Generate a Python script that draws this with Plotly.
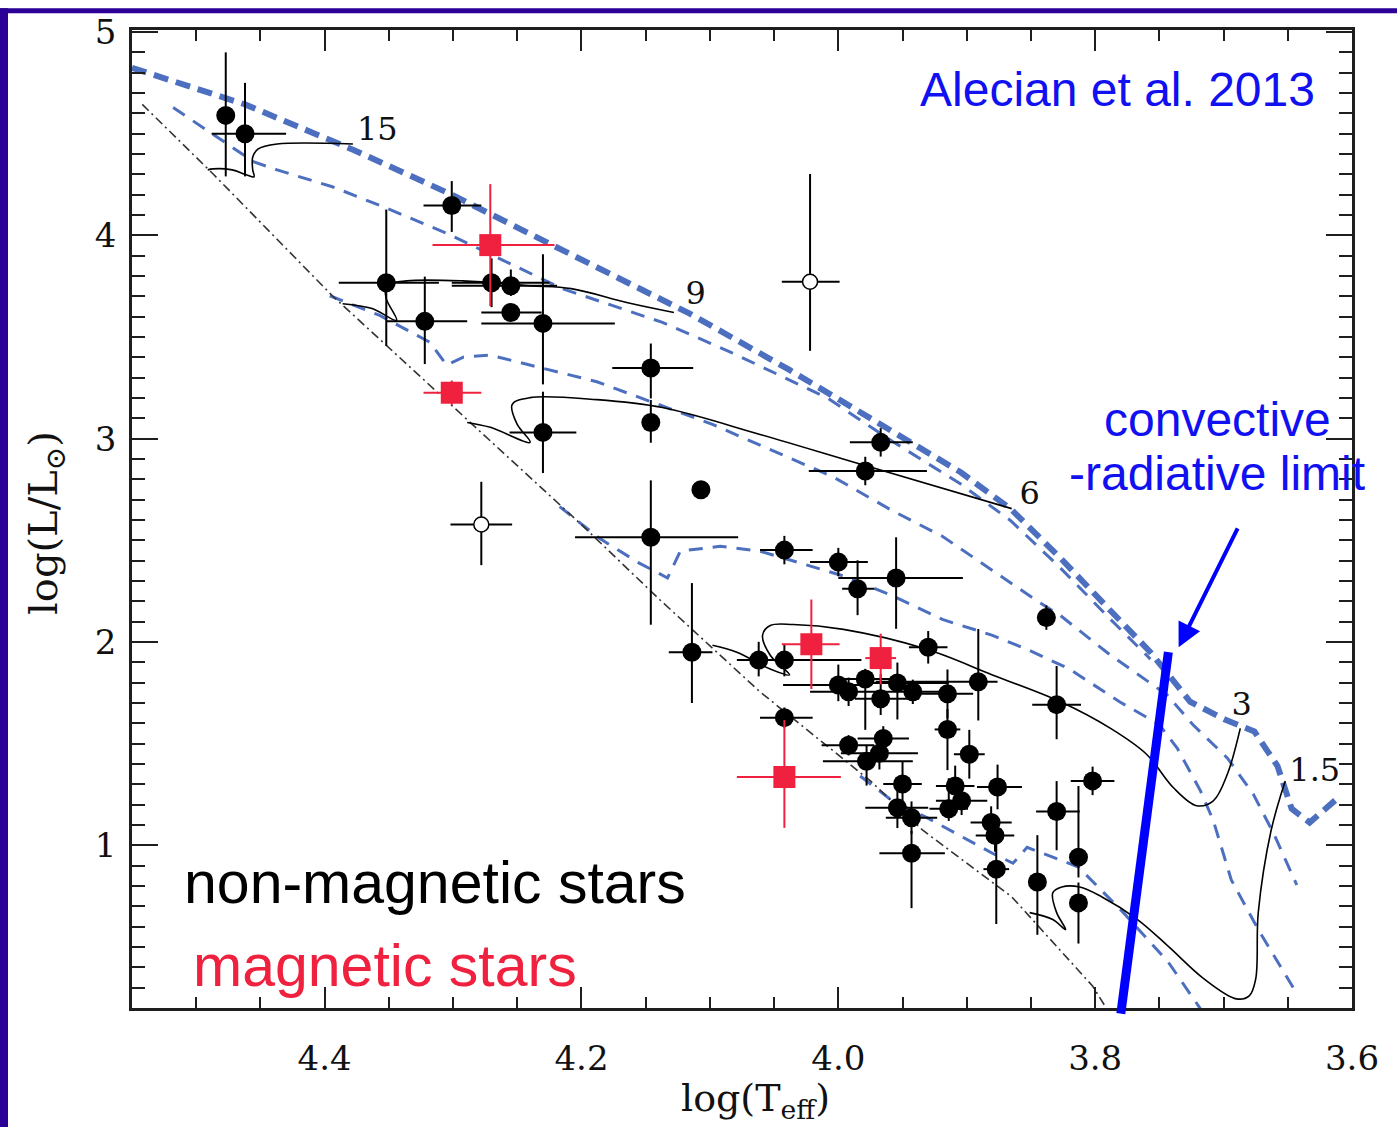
import plotly.graph_objects as go

# ---------------- axes ----------------
X_RANGE = [4.55, 3.6]
Y_RANGE = [0.2, 5.01]
X_TICKS = [4.4, 4.2, 4.0, 3.8, 3.6]
X_TICKTEXT = ["4.4", "4.2", "4.0", "3.8", "3.6"]
Y_TICKS = [1, 2, 3, 4, 5]
Y_TICKTEXT = ["1", "2", "3", "4", "5"]

# ---------------- non-magnetic stars (filled) ----------------
nm_logT = [4.477, 4.462, 4.301, 4.352, 4.322, 4.270, 4.255, 4.255, 4.230, 4.230,
           4.146, 4.146, 4.107, 4.146, 3.967, 3.979, 4.042, 4.000, 3.985, 3.955,
           3.838, 4.114, 4.062, 4.042, 4.042, 4.000, 3.992, 3.979, 3.967, 3.954,
           3.942, 3.930, 3.915, 3.891, 3.915, 3.898, 3.830, 3.992, 3.978, 3.965,
           3.968, 3.950, 3.954, 3.943, 3.943, 3.914, 3.909, 3.904, 3.876, 3.881,
           3.878, 3.877, 3.830, 3.802, 3.813, 3.813, 3.845]
nm_logL = [4.590, 4.500, 4.147, 3.767, 3.577, 3.767, 3.752, 3.621, 3.567, 3.031,
           3.348, 3.080, 2.749, 2.515, 2.982, 2.841, 2.452, 2.393, 2.262, 2.315,
           2.120, 1.950, 1.911, 1.911, 1.628, 1.789, 1.755, 1.818, 1.721, 1.799,
           1.755, 1.974, 1.745, 1.804, 1.570, 1.448, 1.692, 1.492, 1.414, 1.526,
           1.453, 1.302, 1.185, 1.136, 0.961, 1.180, 1.292, 1.219, 1.287, 1.112,
           1.049, 0.883, 1.166, 1.317, 0.942, 0.717, 0.820]
nm_eT_hi = [0.0, 0.026, 0.022, 0.037, 0.030, 0.031, 0.046, 0.023, 0.048, 0.026,
            0.030, 0.0, 0.0, 0.059, 0.024, 0.044, 0.019, 0.022, 0.012, 0.045,
            0.0, 0.018, 0.017, 0.020, 0.019, 0.043, 0.030, 0.020, 0.020, 0.030,
            0.020, 0.015, 0.020, 0.080, 0.010, 0.012, 0.019, 0.021, 0.034, 0.020,
            0.030, 0.015, 0.025, 0.020, 0.025, 0.015, 0.015, 0.020, 0.016, 0.016,
            0.015, 0.010, 0.016, 0.017, 0.0, 0.0, 0.0]
nm_eT_lo = [0.0, 0.032, 0.023, 0.041, 0.033, 0.045, 0.036, 0.024, 0.056, 0.026,
            0.033, 0.0, 0.0, 0.068, 0.025, 0.048, 0.022, 0.023, 0.013, 0.052,
            0.0, 0.016, 0.030, 0.060, 0.022, 0.020, 0.030, 0.020, 0.030, 0.040,
            0.025, 0.015, 0.020, 0.015, 0.010, 0.012, 0.019, 0.020, 0.036, 0.020,
            0.030, 0.015, 0.024, 0.020, 0.026, 0.015, 0.015, 0.020, 0.019, 0.016,
            0.015, 0.010, 0.018, 0.017, 0.0, 0.0, 0.0]
nm_eL_hi = [0.31, 0.25, 0.12, 0.36, 0.22, 0.12, 0.08, 0.04, 0.34, 0.20,
            0.12, 0.11, 0.0, 0.28, 0.07, 0.07, 0.07, 0.07, 0.14, 0.20,
            0.06, 0.34, 0.09, 0.08, 0.05, 0.10, 0.07, 0.05, 0.12, 0.10,
            0.06, 0.08, 0.12, 0.26, 0.10, 0.12, 0.19, 0.05, 0.08, 0.06,
            0.08, 0.11, 0.10, 0.08, 0.11, 0.15, 0.10, 0.07, 0.11, 0.08,
            0.08, 0.21, 0.15, 0.07, 0.35, 0.10, 0.23]
nm_eL_lo = [0.30, 0.21, 0.13, 0.31, 0.21, 0.12, 0.05, 0.04, 0.30, 0.20,
            0.15, 0.10, 0.0, 0.43, 0.07, 0.07, 0.07, 0.07, 0.13, 0.25,
            0.06, 0.25, 0.08, 0.08, 0.05, 0.08, 0.07, 0.25, 0.08, 0.18,
            0.06, 0.08, 0.12, 0.19, 0.20, 0.12, 0.17, 0.05, 0.12, 0.06,
            0.08, 0.14, 0.10, 0.08, 0.27, 0.06, 0.10, 0.07, 0.11, 0.08,
            0.08, 0.27, 0.19, 0.07, 0.10, 0.20, 0.26]

# ---------------- open circles ----------------
oc_logT = [4.278, 4.022]
oc_logL = [2.578, 3.772]
oc_eT_hi = [0.024, 0.022]
oc_eT_lo = [0.024, 0.023]
oc_eL_hi = [0.21, 0.53]
oc_eL_lo = [0.20, 0.34]

# ---------------- magnetic stars ----------------
mg_logT = [4.271, 4.301, 4.021, 3.967, 4.042]
mg_logL = [3.952, 3.226, 1.989, 1.921, 1.336]
mg_eT_hi = [0.045, 0.022, 0.023, 0.012, 0.037]
mg_eT_lo = [0.050, 0.023, 0.022, 0.012, 0.044]
mg_eL_hi = [0.30, 0.06, 0.22, 0.12, 0.28]
mg_eL_lo = [0.30, 0.06, 0.22, 0.13, 0.25]

# ---------------- isochrones (blue dashed) ----------------
isoA_T = [4.550, 4.462, 4.377, 4.301, 4.221, 4.116, 4.038, 3.968, 3.905, 3.866,
          3.827, 3.788, 3.757, 3.726, 3.699, 3.676, 3.658, 3.647, 3.633, 3.609]
isoA_L = [4.824, 4.644, 4.419, 4.200, 3.947, 3.616, 3.338, 3.070, 2.836, 2.656,
          2.413, 2.154, 1.950, 1.706, 1.619, 1.560, 1.390, 1.180, 1.112, 1.244]
isoB_T = [4.518, 4.472, 4.455, 4.437, 4.394, 4.355, 4.305, 4.215, 4.137, 4.084,
          4.009, 3.958, 3.905, 3.866, 3.827, 3.788, 3.757]
isoB_L = [4.629, 4.434, 4.361, 4.322, 4.239, 4.142, 4.010, 3.738, 3.572, 3.426,
          3.202, 2.987, 2.778, 2.598, 2.364, 2.111, 1.916]
isoC_T = [4.396, 4.357, 4.318, 4.305, 4.292, 4.271, 4.188, 4.098, 4.004, 3.958,
          3.919, 3.880, 3.843, 3.827, 3.788, 3.744, 3.724, 3.697, 3.677, 3.661, 3.643]
isoC_L = [3.703, 3.606, 3.474, 3.362, 3.401, 3.411, 3.280, 3.070, 2.812, 2.646,
          2.520, 2.354, 2.193, 2.130, 1.935, 1.740, 1.594, 1.429, 1.253, 1.058, 0.805]
isoD_T = [4.217, 4.186, 4.155, 4.133, 4.123, 4.092, 4.061, 3.996, 3.958, 3.919,
          3.880, 3.853, 3.820, 3.781, 3.750, 3.736, 3.718, 3.708, 3.694, 3.673, 3.642]
isoD_L = [2.666, 2.510, 2.388, 2.315, 2.447, 2.471, 2.447, 2.325, 2.228, 2.111,
          2.033, 1.964, 1.867, 1.706, 1.594, 1.477, 1.268, 1.122, 0.830, 0.586, 0.260]
isoE_T = [3.983, 3.958, 3.931, 3.913, 3.880, 3.864, 3.853, 3.833, 3.813, 3.778,
          3.743, 3.718]
isoE_L = [1.341, 1.219, 1.136, 1.073, 0.961, 0.912, 0.990, 0.942, 0.893, 0.669,
          0.425, 0.196]

# ---------------- ZAMS (dash-dot) ----------------
zams_T = [4.542, 4.487, 4.394, 4.287, 4.201, 4.139, 4.061, 3.975, 3.934, 3.865,
          3.802, 3.792]
zams_L = [4.644, 4.303, 3.703, 3.080, 2.583, 2.208, 1.755, 1.317, 1.073, 0.747,
          0.308, 0.206]

# ---------------- evolutionary tracks ----------------
trk15_T = [4.491, 4.487, 4.472, 4.461, 4.455, 4.456, 4.456, 4.452, 4.437, 4.378]
trk15_L = [4.322, 4.327, 4.322, 4.298, 4.288, 4.322, 4.385, 4.424, 4.449, 4.449]
trk9_T = [4.386, 4.363, 4.344, 4.352, 4.352, 4.336, 4.292, 4.240, 4.208, 4.164, 4.128]
trk9_L = [3.664, 3.640, 3.582, 3.689, 3.752, 3.776, 3.776, 3.752, 3.738, 3.669, 3.621]
trk6_T = [4.289, 4.271, 4.240, 4.250, 4.254, 4.240, 4.188, 4.137, 4.061, 3.983, 3.865]
trk6_L = [3.080, 3.056, 2.982, 3.070, 3.168, 3.202, 3.192, 3.153, 3.021, 2.875, 2.656]
trk3_T = [4.098, 4.079, 4.053, 4.038, 4.053, 4.059, 4.053, 4.035, 3.996, 3.931,
          3.880, 3.827, 3.788, 3.760, 3.739, 3.721, 3.708, 3.697, 3.687]
trk3_L = [1.984, 1.950, 1.867, 1.838, 1.935, 2.033, 2.081, 2.086, 2.062, 1.964,
          1.838, 1.706, 1.575, 1.448, 1.283, 1.195, 1.219, 1.351, 1.575]
trk15b_T = [3.851, 3.833, 3.823, 3.830, 3.833, 3.826, 3.812, 3.795, 3.767, 3.743,
            3.715, 3.690, 3.680, 3.675, 3.673, 3.663, 3.652]
trk15b_L = [0.669, 0.635, 0.586, 0.669, 0.766, 0.795, 0.795, 0.747, 0.635, 0.503,
            0.342, 0.245, 0.260, 0.342, 0.669, 1.073, 1.317]

track_labels = ["15", "9", "6", "3", "1.5"]
track_label_T = [4.359, 4.111, 3.851, 3.686, 3.629]
track_label_L = [4.507, 3.703, 2.720, 1.682, 1.356]

# convective-radiative limit (annotation line) and arrow tip
limit_T = [3.743, 3.780]
limit_L = [1.950, 0.172]
arrow_tip = (3.735, 1.974)

# ---------------- styling ----------------
W, H = 1397, 1128
ML, MR, MT, MB = 132, 45, 22, 120
PW, PH = W - ML - MR, H - MT - MB
AX = "#1e1e1e"
BLUE_ISO = "#4d6fbf"
RED = "#f0203f"
TXT_BLUE = "#1010f0"
SERIF = "DejaVu Serif"
SANS = "Liberation Sans"


def d2px(t, l):
    return ((t - X_RANGE[0]) / (X_RANGE[1] - X_RANGE[0]),
            (l - Y_RANGE[0]) / (Y_RANGE[1] - Y_RANGE[0]))


def px2paper(px, py):
    return (px - ML) / PW, (H - MB - py) / PH


fig = go.Figure()


def add_line(xs, ys, color, width, dash, shape="linear"):
    fig.add_trace(go.Scatter(x=xs, y=ys, mode="lines",
                             line=dict(color=color, width=width, dash=dash, shape=shape),
                             hoverinfo="skip", showlegend=False))


for xs, ys in [(isoB_T, isoB_L), (isoC_T, isoC_L), (isoD_T, isoD_L), (isoE_T, isoE_L)]:
    add_line(xs, ys, BLUE_ISO, 3, "14px,10px")
add_line(isoA_T, isoA_L, BLUE_ISO, 6, "15px,8px")
add_line(zams_T, zams_L, "#333333", 1.6, "9px,4px,2px,4px")
for xs, ys in [(trk15_T, trk15_L), (trk9_T, trk9_L), (trk6_T, trk6_L),
               (trk3_T, trk3_L), (trk15b_T, trk15b_L)]:
    add_line(xs, ys, "black", 1.6, "solid", "spline")

fig.add_trace(go.Scatter(
    x=nm_logT, y=nm_logL, mode="markers",
    marker=dict(color="black", size=19, line=dict(width=0)),
    error_x=dict(type="data", array=nm_eT_hi, arrayminus=nm_eT_lo, color="black", thickness=2, width=0),
    error_y=dict(type="data", array=nm_eL_hi, arrayminus=nm_eL_lo, color="black", thickness=2, width=0),
    showlegend=False, hoverinfo="skip"))
fig.add_trace(go.Scatter(
    x=oc_logT, y=oc_logL, mode="markers",
    marker=dict(color="white", size=15, line=dict(width=1.5, color="black")),
    error_x=dict(type="data", array=oc_eT_hi, arrayminus=oc_eT_lo, color="black", thickness=2, width=0),
    error_y=dict(type="data", array=oc_eL_hi, arrayminus=oc_eL_lo, color="black", thickness=2, width=0),
    showlegend=False, hoverinfo="skip"))
fig.add_trace(go.Scatter(
    x=mg_logT, y=mg_logL, mode="markers",
    marker=dict(color=RED, size=22, symbol="square", line=dict(width=0)),
    error_x=dict(type="data", array=mg_eT_hi, arrayminus=mg_eT_lo, color=RED, thickness=2, width=0),
    error_y=dict(type="data", array=mg_eL_hi, arrayminus=mg_eL_lo, color=RED, thickness=2, width=0),
    showlegend=False, hoverinfo="skip"))

# track mass labels
fig.add_trace(go.Scatter(
    x=track_label_T, y=track_label_L, mode="text", text=track_labels,
    textfont=dict(family=SERIF, size=32, color="#111111"),
    showlegend=False, hoverinfo="skip", cliponaxis=False))

annotations = []
annotations.append(dict(x=3.627, y=4.717, xref="x", yref="y", text="Alecian et al. 2013",
                        showarrow=False, xanchor="right", yanchor="middle",
                        font=dict(family=SANS, size=48, color=TXT_BLUE)))
annotations.append(dict(x=3.705, y=3.095, xref="x", yref="y", text="convective",
                        showarrow=False, xanchor="center", yanchor="middle",
                        font=dict(family=SANS, size=48, color=TXT_BLUE)))
annotations.append(dict(x=3.705, y=2.827, xref="x", yref="y", text="-radiative limit",
                        showarrow=False, xanchor="center", yanchor="middle",
                        font=dict(family=SANS, size=48, color=TXT_BLUE)))
annotations.append(dict(x=4.511, y=0.815, xref="x", yref="y", text="non-magnetic stars",
                        showarrow=False, xanchor="left", yanchor="middle",
                        font=dict(family=SANS, size=59, color="black")))
annotations.append(dict(x=4.504, y=0.406, xref="x", yref="y", text="magnetic stars",
                        showarrow=False, xanchor="left", yanchor="middle",
                        font=dict(family=SANS, size=59, color=RED)))
# arrow
annotations.append(dict(x=arrow_tip[0], y=arrow_tip[1], xref="x", yref="y", text=" ",
                        showarrow=True, ax=62, ay=-125, arrowhead=2, arrowsize=1.2,
                        arrowwidth=4, arrowcolor="#0000ff", standoff=0))
# axis titles
tx, ty = px2paper(755, 1101)
annotations.append(dict(x=tx, y=ty, xref="paper", yref="paper", text="log(T<sub>eff</sub>)",
                        showarrow=False, xanchor="center", yanchor="middle",
                        font=dict(family=SERIF, size=38, color="#111111")))
tx, ty = px2paper(46, 519)
annotations.append(dict(x=tx, y=ty, xref="paper", yref="paper", text="log(L/L<sub>⊙</sub>)",
                        showarrow=False, xanchor="center", yanchor="middle", textangle=-90,
                        font=dict(family=SERIF, size=40, color="#111111")))

shapes = []
x0, y0 = d2px(limit_T[0], limit_L[0])
x1, y1 = d2px(limit_T[1], limit_L[1])
shapes.append(dict(type="line", xref="paper", yref="paper", x0=x0, y0=y0, x1=x1, y1=y1,
                   line=dict(color="#0000ff", width=9)))
# slide frame (left and top bars)
bx0, by0 = px2paper(0, H)
bx1, by1 = px2paper(8, 0)
shapes.append(dict(type="rect", xref="paper", yref="paper", x0=bx0, y0=by0, x1=bx1, y1=by1,
                   fillcolor="#2a0096", line=dict(width=0), layer="above"))
tx0, ty0 = px2paper(0, 5)
tx1, ty1 = px2paper(W, 0)
shapes.append(dict(type="rect", xref="paper", yref="paper", x0=tx0, y0=ty0, x1=tx1, y1=ty1,
                   fillcolor="#2a0096", line=dict(width=0), layer="above"))

axis_common = dict(showline=True, linecolor=AX, linewidth=2.5, mirror="allticks",
                   ticks="inside", tickcolor=AX, tickwidth=2, showgrid=False, zeroline=False,
                   tickfont=dict(family=SERIF, size=34, color="#111111"))

fig.update_layout(
    width=W, height=H,
    margin=dict(l=ML, r=MR, t=MT, b=MB),
    paper_bgcolor="white", plot_bgcolor="white",
    xaxis=dict(range=X_RANGE, tickmode="array", tickvals=X_TICKS, ticktext=X_TICKTEXT,
               ticklen=21, ticklabelstandoff=18,
               minor=dict(ticks="inside", ticklen=11, tickwidth=2, tickcolor=AX,
                          dtick=0.05, tick0=3.6, showgrid=False),
               **axis_common),
    yaxis=dict(range=Y_RANGE, tickmode="array", tickvals=Y_TICKS, ticktext=Y_TICKTEXT,
               ticklen=26, ticklabelstandoff=6,
               minor=dict(ticks="inside", ticklen=13, tickwidth=2, tickcolor=AX,
                          dtick=0.1, tick0=0, showgrid=False),
               **axis_common),
    annotations=annotations,
    shapes=shapes,
    showlegend=False,
)

fig.write_html(
    "out.html",
    config={"displayModeBar": False},
    post_script="document.body.style.margin='0';document.body.style.padding='0';"
                "document.documentElement.style.overflow='hidden';",
)
